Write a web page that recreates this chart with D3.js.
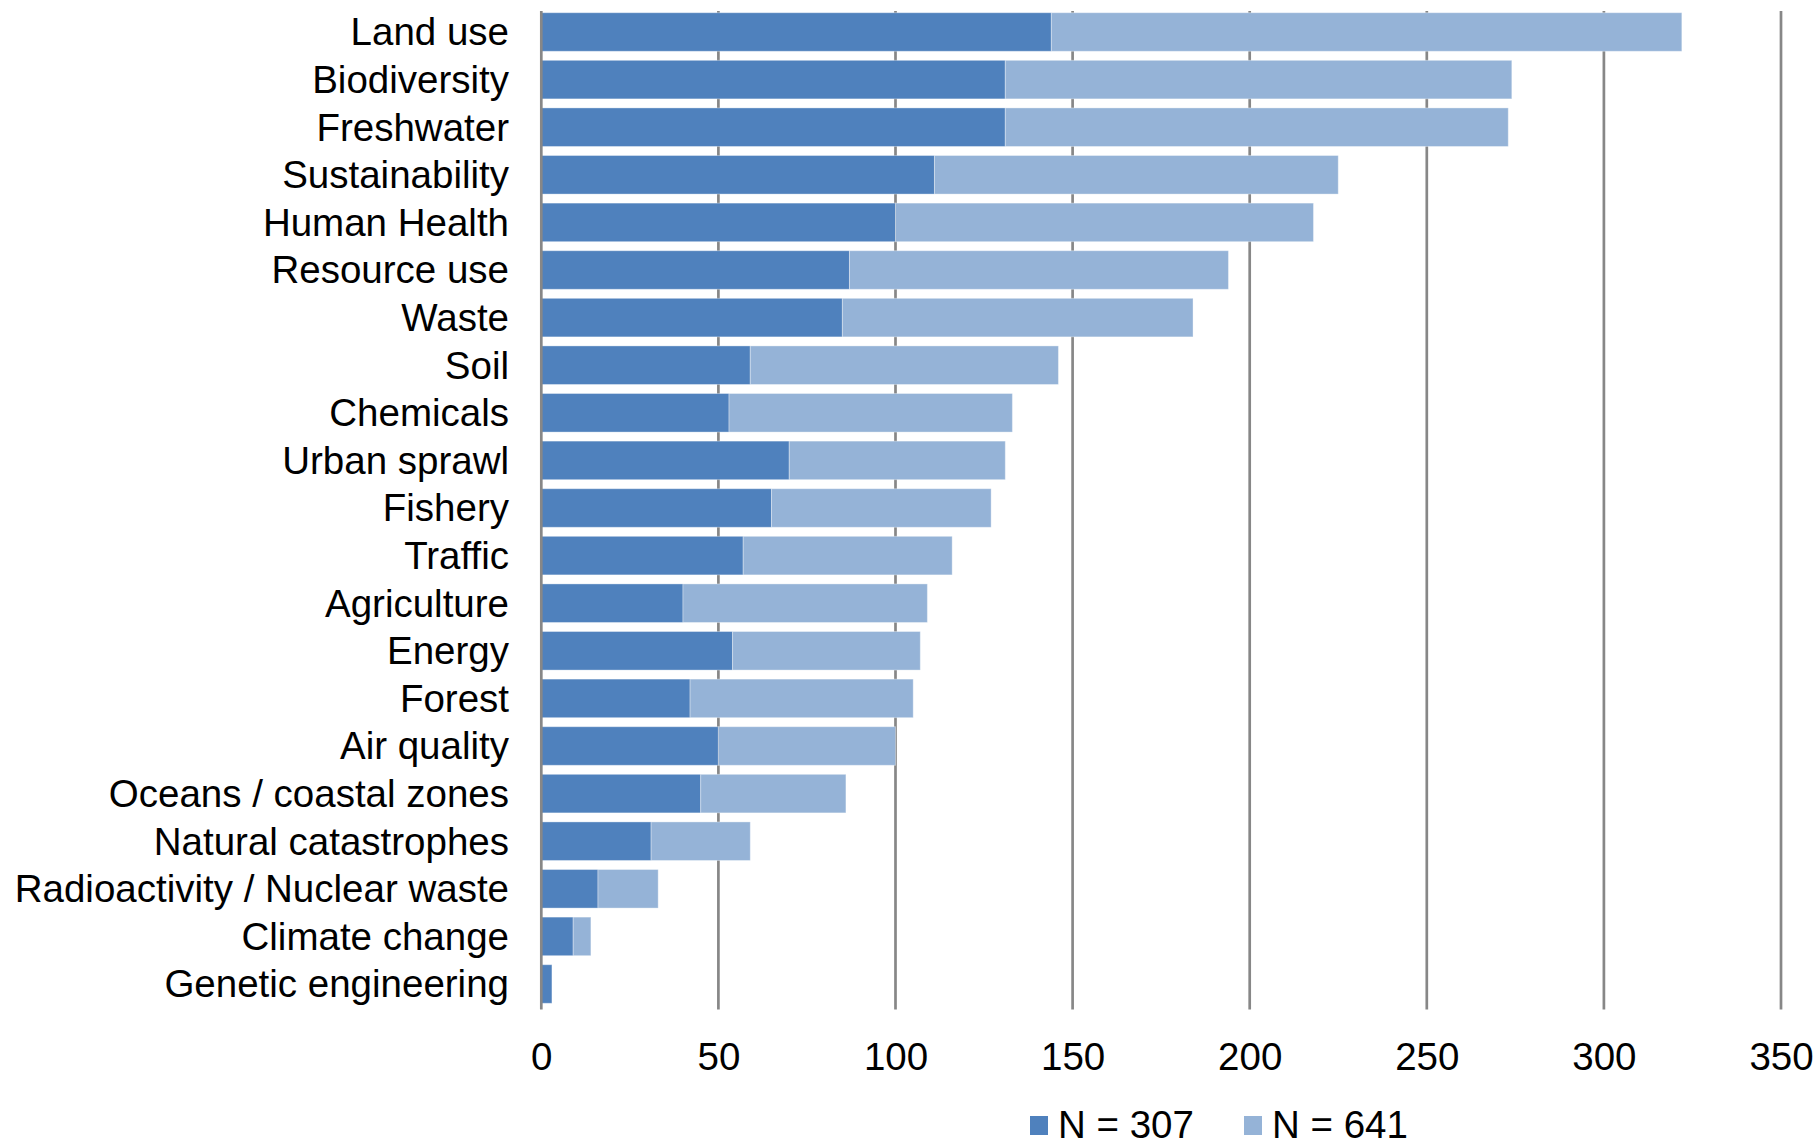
<!DOCTYPE html>
<html>
<head>
<meta charset="utf-8">
<script src="https://cdn.jsdelivr.net/npm/d3@7"></script>
<style>
  html, body { margin: 0; padding: 0; background: #ffffff; }
  svg { display: block; }
  text { font-family: "Liberation Sans", Arial, sans-serif; fill: #000; }
</style>
</head>
<body>
<svg id="chart" width="1818" height="1148"></svg>
<script>
// Environmental topics, ordered by total number of mentions
const categories = [
  "Land use", "Biodiversity", "Freshwater", "Sustainability", "Human Health",
  "Resource use", "Waste", "Soil", "Chemicals", "Urban sprawl", "Fishery",
  "Traffic", "Agriculture", "Energy", "Forest", "Air quality",
  "Oceans / coastal zones", "Natural catastrophes",
  "Radioactivity / Nuclear waste", "Climate change", "Genetic engineering"
];
// Counts per sample
const sampleA = [144, 131, 131, 111, 100, 87, 85, 59, 53, 70, 65, 57, 40, 54, 42, 50, 45, 31, 16, 9, 3];
const sampleB = [178, 143, 142, 114, 118, 107, 99, 87, 80, 61, 62, 59, 69, 53, 63, 50, 41, 28, 17, 5, 0];
const seriesNames = ["N = 307", "N = 641"];
const seriesColors = ["#4f81bd", "#95b3d7"];
const tickValues = [0, 50, 100, 150, 200, 250, 300, 350];

const rows = categories.map((c, i) => ({ cat: c, a: sampleA[i], b: sampleB[i] }));

const svg = d3.select("#chart");
const plotLeft = 541.3, plotRight = 1781, plotTop = 11, plotBottom = 1009.5;
const fontSize = 38.5;

const x = d3.scaleLinear().domain([0, 350]).range([plotLeft, plotRight]);
const y = d3.scaleBand().domain(categories).range([8.2, 1007.8])
  .paddingInner(0.19).paddingOuter(0.095);

// vertical gridlines
svg.append("g").selectAll("line")
  .data(tickValues.filter(v => v > 0))
  .join("line")
  .attr("x1", d => x(d)).attr("x2", d => x(d))
  .attr("y1", plotTop).attr("y2", plotBottom)
  .attr("stroke", "#878787").attr("stroke-width", 2.7);

// stacked bars
const stack = d3.stack().keys(["a", "b"]);
const layers = stack(rows);
svg.append("g").selectAll("g")
  .data(layers)
  .join("g")
  .attr("fill", (d, i) => seriesColors[i])
  .selectAll("rect")
  .data(d => d.filter(s => s[1] > s[0]))
  .join("rect")
  .attr("x", d => x(d[0]))
  .attr("width", d => x(d[1]) - x(d[0]))
  .attr("y", d => y(d.data.cat))
  .attr("height", y.bandwidth())
  .attr("stroke", "rgba(255,255,255,0.35)")
  .attr("stroke-width", 1);

// value axis line at zero
svg.append("line")
  .attr("x1", x(0)).attr("x2", x(0))
  .attr("y1", plotTop).attr("y2", plotBottom)
  .attr("stroke", "#878787").attr("stroke-width", 2.7);

// category labels
svg.append("g").selectAll("text")
  .data(categories)
  .join("text")
  .attr("x", 509)
  .attr("y", d => y(d) + y.bandwidth() / 2 + fontSize * 0.35)
  .attr("text-anchor", "end")
  .style("font-size", fontSize + "px")
  .text(d => d);

// tick labels along the bottom
const xAxis = d3.axisBottom(x).tickValues(tickValues).tickSize(0).tickPadding(0);
const axisG = svg.append("g").attr("transform", `translate(0, ${plotBottom})`).call(xAxis);
axisG.select(".domain").remove();
axisG.selectAll("text")
  .attr("dy", null)
  .attr("y", 1069.5 - plotBottom)
  .style("font-size", fontSize + "px")
  .style("font-family", '"Liberation Sans", Arial, sans-serif')
  .attr("fill", "#000");

// legend
const legendX = [1030, 1244];
const legend = svg.append("g").selectAll("g")
  .data(seriesNames)
  .join("g")
  .attr("transform", (d, i) => `translate(${legendX[i]}, 0)`);
legend.append("rect")
  .attr("x", 0).attr("y", 1116).attr("width", 18).attr("height", 19)
  .attr("fill", (d, i) => seriesColors[i]);
legend.append("text")
  .attr("x", 28).attr("y", 1138)
  .style("font-size", fontSize + "px")
  .text(d => d);
</script>
</body>
</html>
